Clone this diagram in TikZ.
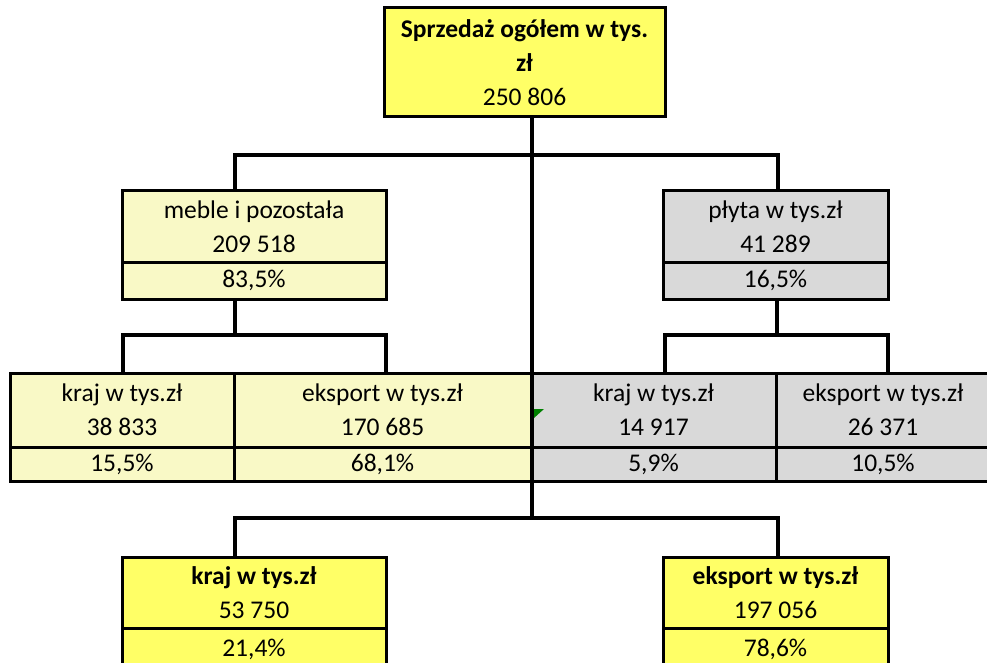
\documentclass[tikz,border=0pt]{standalone}
\usepackage{fontspec}
\setmainfont{Carlito}
\definecolor{brightyel}{HTML}{FFFF66}
\definecolor{paleyel}{HTML}{F9F9C6}
\definecolor{cellgray}{HTML}{D9D9D9}
\definecolor{notegreen}{HTML}{008000}
\tikzset{
  cell/.style={draw=black, line width=3pt, inner sep=0pt, outer sep=0pt, align=center,
    font=\fontsize{25.5}{34}\selectfont, text=black},
  conn/.style={draw=black, line width=4.5pt}
}
\begin{document}
\begin{tikzpicture}[x=1pt,y=-1pt]
\useasboundingbox (0,0) rectangle (987,663);
\fill[white] (0,0) rectangle (987,663);
% top
\node[cell, fill=brightyel, minimum width=281, minimum height=109] (top) at (524.5,62.5)
  {\textbf{Sprzedaż ogółem w tys.}\\\textbf{zł}\\250 806};
% middle level
\node[cell, fill=paleyel, minimum width=264, minimum height=71] (ml) at (254,226.5) {meble i pozostała\\209 518};
\node[cell, fill=paleyel, minimum width=264, minimum height=37] (mlp) at (254,280.5) {83,5\%};
\node[cell, fill=cellgray, minimum width=225, minimum height=71] (mr) at (775.5,226.5) {płyta w tys.zł\\41 289};
\node[cell, fill=cellgray, minimum width=225, minimum height=37] (mrp) at (775.5,280.5) {16,5\%};
% row 3
\node[cell, fill=paleyel, minimum width=224, minimum height=74] (c1) at (122,410) {kraj w tys.zł\\38 833};
\node[cell, fill=paleyel, minimum width=224, minimum height=34] (c1p) at (122,464) {15,5\%};
\node[cell, fill=paleyel, minimum width=297, minimum height=74] (c2) at (382.5,410) {eksport w tys.zł\\170 685};
\node[cell, fill=paleyel, minimum width=297, minimum height=34] (c2p) at (382.5,464) {68,1\%};
\node[cell, fill=cellgray, minimum width=245, minimum height=74] (c3) at (653.5,410) {kraj w tys.zł\\14 917};
\node[cell, fill=cellgray, minimum width=245, minimum height=34] (c3p) at (653.5,464) {5,9\%};
\node[cell, fill=cellgray, minimum width=214, minimum height=74] (c4) at (883,410) {eksport w tys.zł\\26 371};
\node[cell, fill=cellgray, minimum width=214, minimum height=34] (c4p) at (883,464) {10,5\%};
% bottom
\node[cell, fill=brightyel, minimum width=264, minimum height=71] (bl) at (254,592.5) {\textbf{kraj w tys.zł}\\53 750};
\node[cell, fill=brightyel, minimum width=264, minimum height=42] (blp) at (254,649) {21,4\%};
\node[cell, fill=brightyel, minimum width=225, minimum height=71] (br) at (775.5,592.5) {\textbf{eksport w tys.zł}\\197 056};
\node[cell, fill=brightyel, minimum width=225, minimum height=42] (brp) at (775.5,649) {78,6\%};
% junction coordinates
\coordinate (j0) at (532,155);
\coordinate (jL) at (235,155);
\coordinate (jR) at (778,155);
\coordinate (hL) at (235,335);
\coordinate (hR) at (777,335);
\coordinate (vL1) at (123,335);
\coordinate (vL2) at (386,335);
\coordinate (vR1) at (665,335);
\coordinate (vR2) at (888,335);
\coordinate (bL) at (235,518);
\coordinate (bR) at (778,518);
\coordinate (bM) at (532,518);
% connectors
\draw[conn] (top.south -| j0) -- (bM);
\draw[conn] (ml.north -| jL) -- (jL) -- (jR) -- (mr.north -| jR);
\draw[conn] (mlp.south -| hL) -- (hL);
\draw[conn] (c1.north -| vL1) -- (vL1) -- (vL2) -- (c2.north -| vL2);
\draw[conn] (mrp.south -| hR) -- (hR);
\draw[conn] (c3.north -| vR1) -- (vR1) -- (vR2) -- (c4.north -| vR2);
\draw[conn] (bl.north -| bL) -- (bL) -- (bR) -- (br.north -| bR);
% comment marker
\fill[notegreen] (c3.north west) ++(3,36) -- ++(10,0) -- ++(-10,9) -- cycle;
\end{tikzpicture}
\end{document}
